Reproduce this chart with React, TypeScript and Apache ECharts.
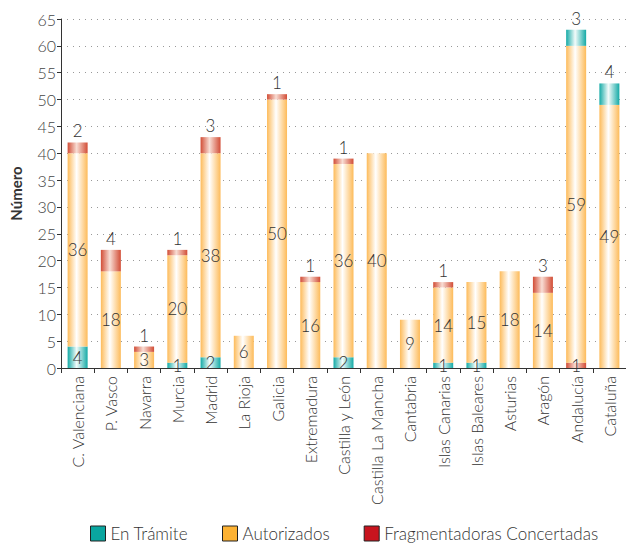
import React, { useEffect, useRef } from "react";
import * as echarts from "echarts";

const categories = [
  "C. Valenciana", "P. Vasco", "Navarra", "Murcia", "Madrid", "La Rioja", "Galicia",
  "Extremadura", "Castilla y León", "Castilla La Mancha", "Cantabria", "Islas Canarias",
  "Islas Baleares", "Asturias", "Aragón", "Andalucía", "Cataluña",
];
const enTramiteBottom = [4, 0, 0, 1, 2, 0, 0, 0, 2, 0, 0, 1, 1, 0, 0, 0, 0];
const fragBottom = [0, 0, 0, 0, 0, 0, 0, 0, 0, 0, 0, 0, 0, 0, 0, 1, 0];
const autorizados = [36, 18, 3, 20, 38, 6, 50, 16, 36, 40, 9, 14, 15, 18, 14, 59, 49];
const fragTop = [2, 4, 1, 1, 3, 0, 1, 1, 1, 0, 0, 1, 0, 0, 3, 0, 0];
const enTramiteTop = [0, 0, 0, 0, 0, 0, 0, 0, 0, 0, 0, 0, 0, 0, 0, 3, 4];
const yTicks = { min: 0, max: 65, interval: 5 };

const FONT = "Lato, 'Open Sans', sans-serif";
const W = 300;

function grad(edge: string, mid: string) {
  return new echarts.graphic.LinearGradient(0, 0, 1, 0, [
    { offset: 0, color: edge },
    { offset: 0.45, color: mid },
    { offset: 1, color: edge },
  ]);
}

const TEAL = grad("#14aaa6", "#f2fbfa");
const ORANGE = grad("#fdbb5a", "#ffffff");
const RED = grad("#d24d36", "#f8ddd4");

function toData(arr: number[]) {
  return arr.map((v) => (v ? v : "-"));
}

export default function App() {
  const ref = useRef<HTMLDivElement>(null);
  useEffect(() => {
    if (!ref.current) return;
    const chart = echarts.init(ref.current, null, { renderer: "svg" });
    const labelInside = {
      show: true,
      position: "inside" as const,
      color: "#333",
      fontSize: 17,
      fontWeight: W,
      fontFamily: FONT,
    };
    const labelTop = { ...labelInside, position: "top" as const, distance: 3 };
    const mk = (name: string, data: number[], color: any, label: any) => ({
      name,
      type: "bar",
      stack: "total",
      barWidth: 20,
      data: toData(data),
      itemStyle: { color },
      label,
    });
    chart.setOption({
      animation: false,
      textStyle: { fontFamily: FONT },
      grid: { left: 61, top: 19, width: 567, bottom: 181 },
      legend: {
        bottom: 2,
        left: 85,
        itemGap: 34,
        itemWidth: 15,
        itemHeight: 15,
        icon: "rect",
        textStyle: { fontSize: 17, fontWeight: W, color: "#333", fontFamily: FONT },
        data: [
          { name: "En Trámite", itemStyle: { color: "#0aa6a0", borderColor: "#222", borderWidth: 1 } },
          { name: "Autorizados", itemStyle: { color: "#fdb233", borderColor: "#222", borderWidth: 1 } },
          { name: "Fragmentadoras Concertadas", itemStyle: { color: "#c8141e", borderColor: "#222", borderWidth: 1 } },
        ],
      },
      xAxis: {
        type: "category",
        data: categories,
        axisLine: { lineStyle: { color: "#333", width: 1 } },
        axisTick: { show: true, length: 5, lineStyle: { color: "#333" } },
        axisLabel: { rotate: 90, fontSize: 16, fontWeight: W, color: "#333", margin: 8, interval: 0, fontFamily: FONT },
      },
      yAxis: {
        type: "value",
        min: yTicks.min,
        max: yTicks.max,
        interval: yTicks.interval,
        name: "Número",
        nameLocation: "middle",
        nameGap: 38,
        nameRotate: 90,
        nameTextStyle: { fontSize: 15, fontWeight: "bold", color: "#333", fontFamily: FONT },
        axisLine: { show: true, lineStyle: { color: "#333" } },
        axisTick: { show: true, length: 4, lineStyle: { color: "#333" } },
        axisLabel: { fontSize: 16, fontWeight: W, color: "#444", margin: 5, fontFamily: FONT },
        splitLine: { lineStyle: { color: "#999", type: [1, 5] } },
      },
      series: [
        mk("En Trámite", enTramiteBottom, TEAL, labelInside),
        mk("Fragmentadoras Concertadas", fragBottom, RED, labelInside),
        mk("Autorizados", autorizados, ORANGE, labelInside),
        mk("Fragmentadoras Concertadas", fragTop, RED, labelTop),
        mk("En Trámite", enTramiteTop, TEAL, labelTop),
      ],
    });
    return () => chart.dispose();
  }, []);
  return <div ref={ref} style={{ width: 626, height: 549, position: "absolute", left: 0, top: 0 }} />;
}
